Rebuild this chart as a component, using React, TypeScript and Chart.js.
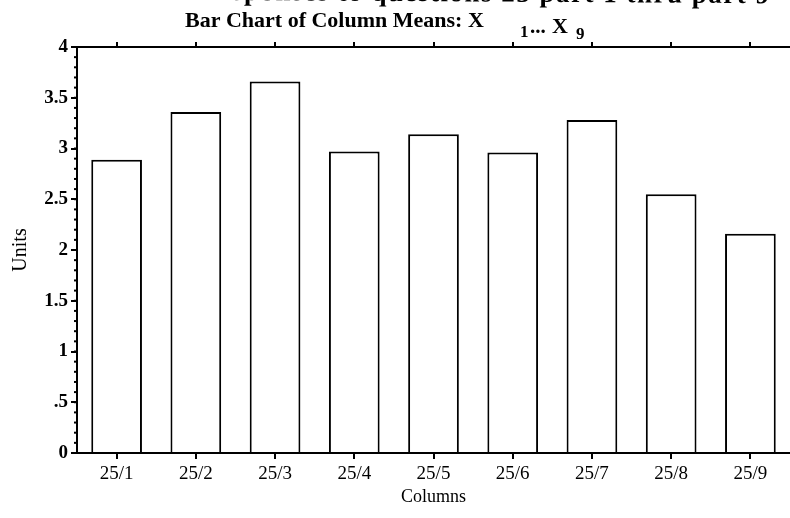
import React, { useEffect, useRef } from "react";
import { Chart, registerables } from "chart.js";

Chart.register(...registerables);

const categories = ["25/1", "25/2", "25/3", "25/4", "25/5", "25/6", "25/7", "25/8", "25/9"];
const columnMeans = [2.89, 3.36, 3.66, 2.97, 3.14, 2.96, 3.28, 2.55, 2.16];
const yTickLabels = ["0", ".5", "1", "1.5", "2", "2.5", "3", "3.5", "4"];
const minorStep = 0.1;

const SERIF = '"Liberation Serif", "DejaVu Serif", serif';

const titlePlugin = {
  id: "scanTitle",
  afterDraw(chart: any) {
    const ctx = chart.ctx;
    ctx.save();
    ctx.fillStyle = "#000";
    ctx.textBaseline = "alphabetic";
    ctx.textAlign = "left";
    // partially cut-off caption line at the very top
    ctx.save();
    ctx.translate(232, 0);
    ctx.rotate(0.006);
    ctx.font = `bold 27px ${SERIF}`;
    (ctx as any).letterSpacing = "1.5px";
    ctx.fillText("sponses to questions 25 part 1 thru part 9", 0, 0);
    ctx.restore();
    // main title with subscripts
    ctx.font = `bold 22px ${SERIF}`;
    ctx.fillText("Bar Chart of Column Means: X", 185, 27);
    ctx.font = `bold 17px ${SERIF}`;
    ctx.fillText("1", 520, 37);
    ctx.font = `bold 21px ${SERIF}`;
    ctx.fillText("...", 530, 33);
    ctx.font = `bold 22px ${SERIF}`;
    ctx.fillText("X", 552, 33);
    ctx.font = `bold 17px ${SERIF}`;
    ctx.fillText("9", 576, 39);

    // minor ticks on the y axis
    const y = chart.scales.y;
    const x0 = chart.chartArea.left;
    ctx.strokeStyle = "#000";
    ctx.lineWidth = 2;
    for (let v = 0; v <= y.max + 1e-9; v += minorStep) {
      const py = y.getPixelForValue(v);
      ctx.beginPath();
      ctx.moveTo(x0 - 3, py);
      ctx.lineTo(x0, py);
      ctx.stroke();
    }
    ctx.restore();
  },
};

export default function App() {
  const canvasRef = useRef<HTMLCanvasElement | null>(null);

  useEffect(() => {
    const canvas = canvasRef.current;
    if (!canvas) return;
    const chart = new Chart(canvas, {
      type: "bar",
      data: {
        labels: categories,
        datasets: [
          {
            label: "Column means",
            data: columnMeans,
            backgroundColor: "#ffffff",
            borderColor: "#000000",
            borderWidth: 2,
            barPercentage: 0.64,
            categoryPercentage: 1,
          },
        ],
      },
      options: {
        responsive: false,
        animation: false,
        layout: { padding: 0 },
        plugins: {
          legend: { display: false },
          tooltip: { enabled: false },
          title: { display: false },
        },
        scales: {
          x: {
            type: "category",
            position: "bottom",
            offset: true,
            afterFit: (s: any) => {
              s.height = 65;
            },
            grid: {
              offset: false,
              drawOnChartArea: false,
              drawTicks: true,
              tickLength: 6,
              color: "#000",
              lineWidth: 2,
            },
            border: { display: true, color: "#000", width: 2 },
            ticks: {
              color: "#000",
              padding: 4,
              font: { family: SERIF, size: 19 },
              maxRotation: 0,
              autoSkip: false,
            },
            title: {
              display: true,
              text: "Columns",
              color: "#000",
              font: { family: SERIF, size: 18 },
              padding: { top: 0, bottom: 10 },
            },
          },
          xTop: {
            type: "category",
            axis: "x",
            position: "top",
            labels: categories,
            offset: true,
            afterFit: (s: any) => {
              s.height = 47;
            },
            grid: {
              offset: false,
              drawOnChartArea: false,
              drawTicks: true,
              tickLength: 5,
              color: "#000",
              lineWidth: 2,
            },
            border: { display: true, color: "#000", width: 2 },
            ticks: { display: false },
          },
          y: {
            min: 0,
            max: 4,
            afterFit: (s: any) => {
              s.width = 77;
            },
            grid: {
              drawOnChartArea: false,
              drawTicks: true,
              tickLength: 6,
              color: "#000",
              lineWidth: 2,
            },
            border: { display: true, color: "#000", width: 2 },
            ticks: {
              stepSize: 0.5,
              color: "#000",
              padding: 3,
              font: { family: SERIF, size: 19, weight: "bold" },
              callback: (_v: any, i: number) => yTickLabels[i],
            },
            title: {
              display: true,
              text: "Units",
              color: "#000",
              font: { family: SERIF, size: 20 },
              padding: { top: 9, bottom: 0 },
            },
          },
        },
      },
      plugins: [titlePlugin],
    });
    return () => chart.destroy();
  }, []);

  return (
    <div style={{ position: "fixed", left: 0, top: 0, width: 790, height: 518, background: "#fff" }}>
      <canvas ref={canvasRef} width={790} height={518} style={{ display: "block" }} />
    </div>
  );
}
